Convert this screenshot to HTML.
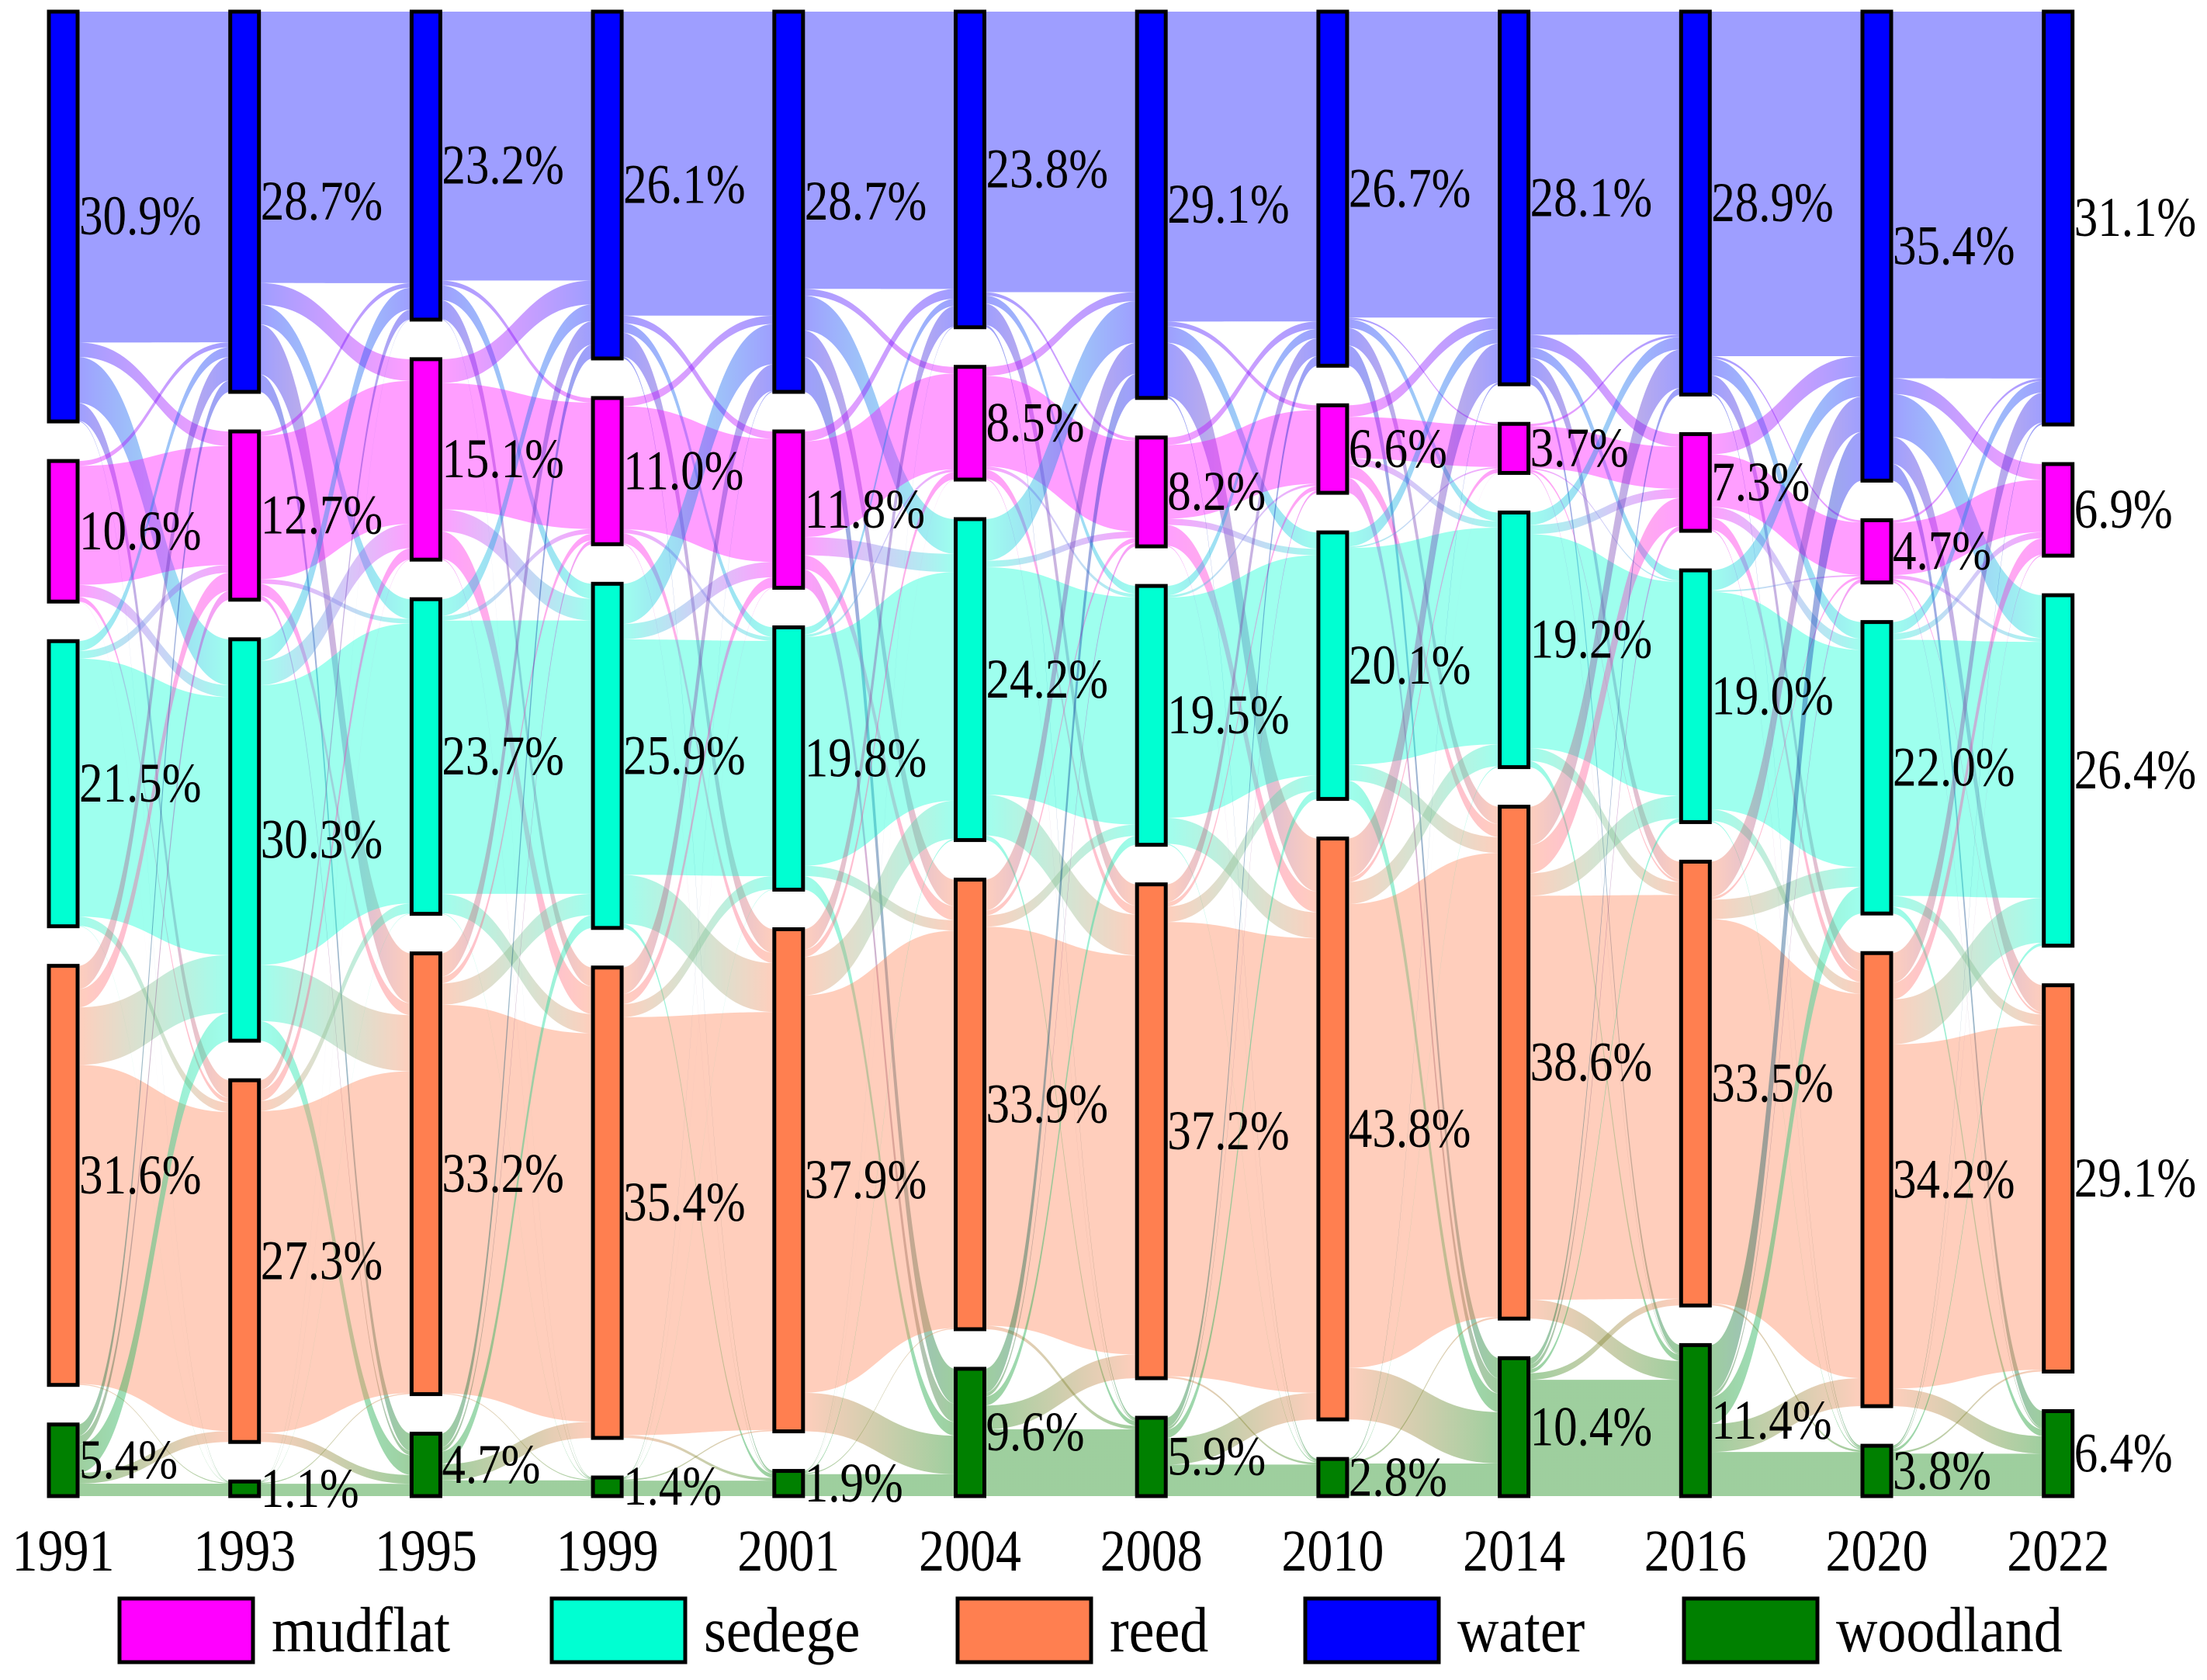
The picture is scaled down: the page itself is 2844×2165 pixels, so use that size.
<!DOCTYPE html>
<html><head><meta charset="utf-8"><style>
html,body{margin:0;padding:0;background:#fff}
svg{display:block}
text{font-family:"Liberation Serif",serif;fill:#000}
</style></head><body>
<svg id="chart" width="2844" height="2165" viewBox="0 0 2844 2165" xmlns="http://www.w3.org/2000/svg">
<defs id="defs"></defs>
<g id="links"></g>
<g id="nodes"></g>
<g id="labels"></g>
<g id="legend"></g>
</svg>
<script>
const years = ["1991","1993","1995","1999","2001","2004","2008","2010","2014","2016","2020","2022"];
const categories = ["water","mudflat","sedge","reed","woodland"];
const legendOrder = ["mudflat","sedge","reed","water","woodland"];
const legendLabels = ["mudflat","sedege","reed","water","woodland"];
const water    = [30.9,28.7,23.2,26.1,28.7,23.8,29.1,26.7,28.1,28.9,35.4,31.1];
const mudflat  = [10.6,12.7,15.1,11.0,11.8,8.5,8.2,6.6,3.7,7.3,4.7,6.9];
const sedge    = [21.5,30.3,23.7,25.9,19.8,24.2,19.5,20.1,19.2,19.0,22.0,26.4];
const reed     = [31.6,27.3,33.2,35.4,37.9,33.9,37.2,43.8,38.6,33.5,34.2,29.1];
const woodland = [5.4,1.1,4.7,1.4,1.9,9.6,5.9,2.8,10.4,11.4,3.8,6.4];
const keepShare = 0.82;

const series = {water, mudflat, sedge, reed, woodland};
const colors = {water:"#0000ff", mudflat:"#ff00ff", sedge:"#00ffd2", reed:"#ff7f50", woodland:"#008000"};

const NS = "http://www.w3.org/2000/svg";
const X0 = 63, DX = 233.7, NW = 37, TOP = 15, BOTTOM = 1928, GAP = 51;
function xAt(i){ return X0 + i*DX; }
function mk(tag, attrs, parent){
  const e = document.createElementNS(NS, tag);
  for (const k in attrs) e.setAttribute(k, attrs[k]);
  parent.appendChild(e); return e;
}
const layout = years.map((y, i) => {
  const vals = categories.map(c => series[c][i]);
  const sum = vals.reduce((a,b)=>a+b,0);
  const k = (BOTTOM - TOP - GAP*(categories.length-1)) / sum;
  let y0 = TOP;
  return vals.map(v => { const n = {y0, h: v*k, v, k}; y0 += v*k + GAP; return n; });
});

const defs = document.getElementById('defs');
const gLinks = document.getElementById('links');
const gNodes = document.getElementById('nodes');
const gLabels = document.getElementById('labels');
const gLegend = document.getElementById('legend');

for (let i = 0; i < years.length - 1; i++) {
  const A = layout[i], B = layout[i+1];
  const n = categories.length;
  const diag = categories.map((c,j)=> keepShare*Math.min(A[j].v, B[j].v));
  const rOut = categories.map((c,j)=> A[j].v - diag[j]);
  const rIn = categories.map((c,j)=> B[j].v - diag[j]);
  const R = rIn.reduce((a,b)=>a+b,0);
  const flow = [];
  for (let s=0;s<n;s++){ flow.push([]); for (let t=0;t<n;t++){ flow[s].push((s===t?diag[s]:0) + rOut[s]*rIn[t]/R); } }
  const outPos = A.map(a=>a.y0), inPos = B.map(b=>b.y0);
  const outSum = flow.map(r=>r.reduce((a,b)=>a+b,0));
  const inSum = categories.map((c,t)=>flow.reduce((a,r)=>a+r[t],0));
  const segs = [];
  for (let s=0;s<n;s++) for (let t=0;t<n;t++){
    const hs = flow[s][t]/outSum[s]*A[s].h;
    segs.push({s,t,sy:outPos[s],hs}); outPos[s]+=hs;
  }
  for (let t=0;t<n;t++) for (let s=0;s<n;s++){
    const sg = segs.find(q=>q.s===s&&q.t===t);
    sg.ht = flow[s][t]/inSum[t]*B[t].h; sg.ty = inPos[t]; inPos[t]+=sg.ht;
  }
  const x1 = xAt(i)+NW, x2 = xAt(i+1), xm = (x1+x2)/2;
  segs.forEach(sg=>{
    const gid = `g${i}_${sg.s}_${sg.t}`;
    const lg = mk('linearGradient',{id:gid,gradientUnits:'userSpaceOnUse',x1:x1,y1:0,x2:x2,y2:0},defs);
    mk('stop',{offset:'0','stop-color':colors[categories[sg.s]]},lg);
    mk('stop',{offset:'1','stop-color':colors[categories[sg.t]]},lg);
    const d = `M${x1},${sg.sy} C${xm},${sg.sy} ${xm},${sg.ty} ${x2},${sg.ty} L${x2},${sg.ty+sg.ht} C${xm},${sg.ty+sg.ht} ${xm},${sg.sy+sg.hs} ${x1},${sg.sy+sg.hs} Z`;
    const p = mk('path',{d, fill:`url(#${gid})`, 'fill-opacity':0.38},gLinks);
    
    
  });
}
layout.forEach((col, i) => {
  col.forEach((nd, j) => {
    const c = categories[j];
    const r = mk('rect',{x:xAt(i), y:nd.y0, width:NW, height:Math.max(nd.h,1), fill:colors[c], stroke:'#000','stroke-width':5},gNodes);
    
    
    const t = mk('text',{x:0,y:0,'font-size':61,'dominant-baseline':'central',transform:`translate(${xAt(i)+NW+2},${nd.y0+nd.h/2}) scale(1,1.18)`},gLabels);
    t.textContent = nd.v.toFixed(1)+'%';
    
    
  });
  const yl = mk('text',{x:0,y:0,'font-size':66,'text-anchor':'middle',transform:`translate(${xAt(i)+NW/2},2024) scale(1,1.15)`},gLabels);
  yl.textContent = years[i];
  
  
});
const legX = [154, 711, 1234, 1682, 2170];
legendOrder.forEach((c, k) => {
  const g = mk('g',{},gLegend);
  
  
  const r = mk('rect',{x:legX[k], y:2060, width:172, height:82, fill:colors[c], stroke:'#000','stroke-width':5},g);
  
  
  const t = mk('text',{x:0,y:0,'font-size':74,transform:`translate(${legX[k]+196},2128) scale(1,1.12)`},g);
  t.textContent = legendLabels[k];
  
  
});
</script>
</body></html>
